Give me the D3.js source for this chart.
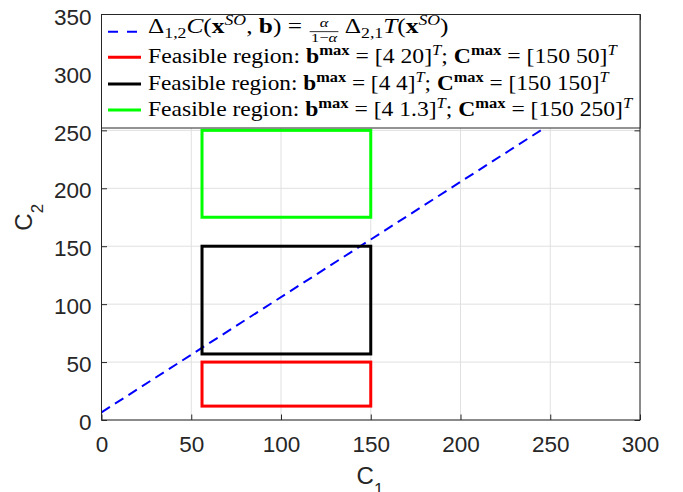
<!DOCTYPE html>
<html><head><meta charset="utf-8">
<script src="https://cdn.jsdelivr.net/npm/d3@7"></script>
<style>body{margin:0;background:#fff;overflow:hidden}</style>
</head><body>
<svg id="c" width="683" height="492"></svg>
<script>
// ---- data ----
const xTicks = [0, 50, 100, 150, 200, 250, 300];
const yTicks = [0, 50, 100, 150, 200, 250, 300, 350];
const regionColors = ["#ff0000", "#000000", "#00ff00"];
const regionC1Min = [56, 56, 56];
const regionC1Max = [150, 150, 150];
const regionC2Min = [12, 57, 175];
const regionC2Max = [50, 150, 250];
const regionBmax = ["4 20", "4 4", "4 1.3"];
const regionCmax = ["150 50", "150 150", "150 250"];
const lineC1 = [0, 300];
const lineC2 = [6.6, 305];

// ---- layout ----
const L = 101.5, R = 640, T = 14.5, B = 420;
const svg = d3.select("#c");
const x = d3.scaleLinear().domain([0, 300]).range([L, R]);
const y = d3.scaleLinear().domain([0, 350]).range([B, T]);
const axisColor = "#262626";
const gridColor = "#e0e0e0";
const sans = "'Liberation Sans', Arial, Helvetica, sans-serif";
const serif = "'Liberation Serif', 'Times New Roman', serif";
const TICKFS = 22.5;

// grid
const grid = svg.append("g");
grid.selectAll("line.gx").data(xTicks).join("line")
  .attr("x1", d => x(d)).attr("x2", d => x(d)).attr("y1", T).attr("y2", B)
  .attr("stroke", gridColor).attr("stroke-width", 1);
grid.selectAll("line.gy").data(yTicks).join("line")
  .attr("y1", d => y(d)).attr("y2", d => y(d)).attr("x1", L).attr("x2", R)
  .attr("stroke", gridColor).attr("stroke-width", 1);

// clip
svg.append("clipPath").attr("id", "clip").append("rect")
  .attr("x", L).attr("y", T).attr("width", R - L).attr("height", B - T);
const plot = svg.append("g").attr("clip-path", "url(#clip)");

// dashed line
plot.append("path")
  .datum(lineC1.map((c, i) => [c, lineC2[i]]))
  .attr("d", d3.line().x(d => x(d[0])).y(d => y(d[1])))
  .attr("fill", "none").attr("stroke", "#0000ff").attr("stroke-width", 2)
  .attr("stroke-dasharray", "10,6");

// regions
plot.selectAll("rect.reg").data(regionColors).join("rect")
  .attr("x", (d, i) => x(regionC1Min[i]))
  .attr("y", (d, i) => y(regionC2Max[i]))
  .attr("width", (d, i) => x(regionC1Max[i]) - x(regionC1Min[i]))
  .attr("height", (d, i) => y(regionC2Min[i]) - y(regionC2Max[i]))
  .attr("fill", "none").attr("stroke", d => d).attr("stroke-width", 3);

// axes (MATLAB style, ticks inward on all sides)
const tickLen = 5.5;
const ax = svg.append("g").attr("font-family", sans).attr("fill", axisColor);
ax.append("g").attr("transform", `translate(0,${B})`)
  .call(d3.axisBottom(x).tickValues(xTicks).tickSize(-tickLen).tickPadding(16).tickFormat(d3.format("d")))
  .call(g => { g.select(".domain").remove(); g.selectAll("line").attr("stroke", axisColor);
    g.selectAll("text").attr("font-size", TICKFS).attr("fill", axisColor).attr("font-family", sans); });
ax.append("g").attr("transform", `translate(0,${T})`)
  .call(d3.axisTop(x).tickValues(xTicks).tickSize(-tickLen).tickFormat(""))
  .call(g => { g.select(".domain").remove(); g.selectAll("line").attr("stroke", axisColor); });
ax.append("g").attr("transform", `translate(${L},0)`)
  .call(d3.axisLeft(y).tickValues(yTicks).tickSize(-tickLen).tickPadding(10).tickFormat(d3.format("d")))
  .call(g => { g.select(".domain").remove(); g.selectAll("line").attr("stroke", axisColor);
    g.selectAll("text").attr("font-size", TICKFS).attr("fill", axisColor).attr("font-family", sans)
      .attr("dy", "0.43em"); });
ax.append("g").attr("transform", `translate(${R},0)`)
  .call(d3.axisRight(y).tickValues(yTicks).tickSize(-tickLen).tickFormat(""))
  .call(g => { g.select(".domain").remove(); g.selectAll("line").attr("stroke", axisColor); });
svg.append("rect").attr("x", L).attr("y", T).attr("width", R - L).attr("height", B - T)
  .attr("fill", "none").attr("stroke", axisColor).attr("stroke-width", 1);

// axis labels
const xl = svg.append("text").attr("x", 370).attr("y", 484).attr("text-anchor", "middle")
  .attr("font-family", sans).attr("font-size", 24).attr("fill", axisColor);
xl.append("tspan").text("C");
xl.append("tspan").attr("font-size", 17).attr("dy", 11).text("1");
const yl = svg.append("text").attr("transform", `translate(31.7,${(T + B) / 2}) rotate(-90)`)
  .attr("text-anchor", "middle").attr("font-family", sans).attr("font-size", 24).attr("fill", axisColor);
yl.append("tspan").text("C");
yl.append("tspan").attr("font-size", 17).attr("dy", 11).text("2");

// ---- legend ----
const legTop = 14.5, legBot = 128;
const leg = svg.append("g");
leg.append("rect").attr("x", L).attr("y", legTop).attr("width", R - L).attr("height", legBot - legTop)
  .attr("fill", "#fff").attr("stroke", axisColor).attr("stroke-width", 1);

const FS = 20, SS = 14, FRS = 13;
function addSegs(text, segs, baseY, startX) {
  segs.forEach((s, k) => {
    const shift = s.sup ? -8 : (s.sub ? 5 : 0);
    const ts = text.append("tspan").text(s.t)
      .attr("font-size", s.fs || (s.small ? SS : FS))
      .attr("font-style", s.it ? "italic" : "normal")
      .attr("font-weight", s.bf ? "bold" : "normal")
      .attr("y", baseY + shift);
    if (k === 0 && startX !== undefined) ts.attr("x", startX);
  });
}
function measure(segs) {
  const t = svg.append("text").attr("font-family", serif).attr("xml:space", "preserve");
  addSegs(t, segs, 0);
  const w = t.node().getComputedTextLength();
  t.remove();
  return w;
}
function row(segs, baseY, targetW, x0) {
  const g = leg.append("g");
  const t = g.append("text").attr("x", 0).attr("y", baseY).attr("font-family", serif).attr("fill", "#000")
    .attr("xml:space", "preserve");
  addSegs(t, segs, baseY, 0);
  const w = t.node().getComputedTextLength();
  g.attr("transform", `translate(${x0},0) scale(${targetW / w},1)`);
}
const rowLineY = [31.7, 57.3, 84, 110];
const rowBase = [33, 63.3, 90, 116];
const rowEnd = [448.6, 617, 609, 632.5];
const sampleX0 = 108, sampleX1 = 141, textX0 = 148;

// sample lines
leg.append("line").attr("x1", sampleX0).attr("x2", sampleX1).attr("y1", rowLineY[0]).attr("y2", rowLineY[0])
  .attr("stroke", "#0000ff").attr("stroke-width", 2).attr("stroke-dasharray", "10,9");
regionColors.forEach((c, i) => {
  leg.append("line").attr("x1", sampleX0).attr("x2", sampleX1).attr("y1", rowLineY[i + 1]).attr("y2", rowLineY[i + 1])
    .attr("stroke", c).attr("stroke-width", 3);
});

// row 1 (equation with fraction) as a single text element
{
  const segA = [{t: "Δ"}, {t: "1,2", small: 1, sub: 1}, {t: "C", it: 1}, {t: "("}, {t: "x", bf: 1},
    {t: "SO", small: 1, it: 1, sup: 1}, {t: ", "}, {t: "b", bf: 1}, {t: ") = "}];
  const segB = [{t: "Δ"}, {t: "2,1", small: 1, sub: 1}, {t: "T", it: 1}, {t: "("}, {t: "x", bf: 1},
    {t: "SO", small: 1, it: 1, sup: 1}, {t: ")"}];
  const wA = measure(segA), wB = measure(segB);
  const nw = measure([{t: "α", it: 1, fs: FRS}]);
  const dw = measure([{t: "1−", fs: FRS}, {t: "α", it: 1, fs: FRS}]);
  const fx = wA + 1, fw = Math.max(nw, dw) + 2, gapB = 5;
  const g = leg.append("g");
  const t = g.append("text").attr("font-family", serif).attr("fill", "#000").attr("xml:space", "preserve");
  addSegs(t, segA, rowBase[0], 0);
  t.append("tspan").attr("x", fx + fw / 2 - nw / 2).attr("y", rowLineY[0] - 4.4)
    .attr("font-size", FRS).attr("font-style", "italic").text("α");
  t.append("tspan").attr("x", fx + fw / 2 - dw / 2).attr("y", rowLineY[0] + 10.1)
    .attr("font-size", FRS).text("1−");
  t.append("tspan").attr("font-size", FRS).attr("font-style", "italic").text("α");
  addSegs(t, segB, rowBase[0], fx + fw + gapB);
  g.append("line").attr("x1", fx).attr("x2", fx + fw).attr("y1", rowLineY[0]).attr("y2", rowLineY[0])
    .attr("stroke", "#000").attr("stroke-width", 0.8);
  const wTot = fx + fw + gapB + wB;
  g.attr("transform", `translate(${textX0},0) scale(${(rowEnd[0] - textX0) / wTot},1)`);
}
regionColors.forEach((c, i) => {
  row([{t: "Feasible region: "}, {t: "b", bf: 1}, {t: "max", bf: 1, small: 1, sup: 1},
       {t: " = [" + regionBmax[i] + "]"}, {t: "T", it: 1, small: 1, sup: 1}, {t: "; "},
       {t: "C", bf: 1}, {t: "max", bf: 1, small: 1, sup: 1},
       {t: " = [" + regionCmax[i] + "]"}, {t: "T", it: 1, small: 1, sup: 1}],
      rowBase[i + 1], rowEnd[i + 1] - textX0, textX0);
});
</script>
</body></html>
